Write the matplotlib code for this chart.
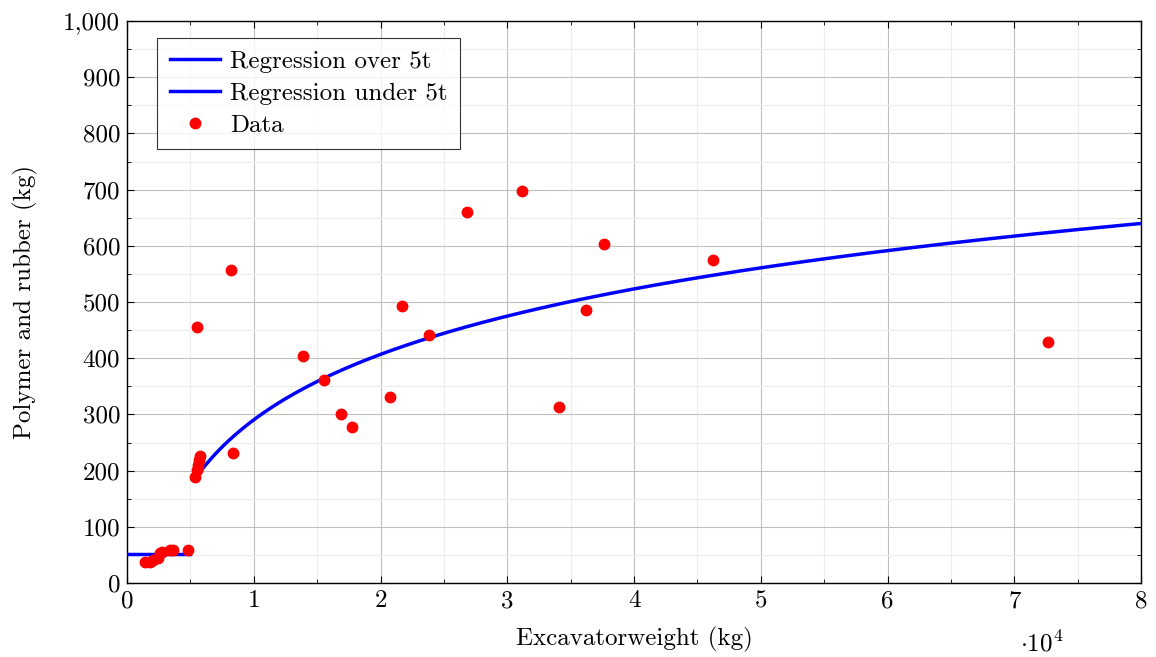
import numpy as np
import matplotlib.pyplot as plt
from matplotlib.ticker import MultipleLocator, FuncFormatter

plt.rcParams['font.family'] = 'cmr10'
plt.rcParams['mathtext.fontset'] = 'cm'
plt.rcParams['axes.formatter.use_mathtext'] = True

# measured excavators: operating weight (kg) and polymer/rubber mass (kg)
weight = [1420, 1815, 2050, 2450, 2600, 2760, 3390, 3630, 4810,
          5400, 5480, 5560, 5640, 5720, 5523, 8205, 8363,
          13886, 15543, 16884, 17751, 20750, 21696, 23826, 26824,
          31164, 34083, 36213, 37633, 46233, 72663]
polymer = [37, 37, 41, 44, 53, 55, 59, 59, 59,
           189, 201, 210, 219, 226, 455, 557, 231,
           404, 361, 301, 278, 331, 493, 441, 660,
           698, 313, 486, 603, 575, 429]

# regression fits
under_const = 51.0
under_range = (0, 5000)
over_a, over_b = 168.0, -1256.9   # y = a*ln(x) + b
over_range = (5400, 80000)

fig = plt.figure(figsize=(11.56, 6.57), dpi=100)
ax = fig.add_axes([0.1099, 0.1126, 0.8772, 0.8554])

xo = np.linspace(*over_range, 400)
ax.plot(xo, over_a * np.log(xo) + over_b, color='blue', lw=2.5,
        label='Regression over 5t', zorder=3)
ax.plot(under_range, [under_const, under_const], color='blue', lw=2.5,
        label='Regression under 5t', zorder=3)
ax.plot(weight, polymer, 'o', color='red', ms=7.5, lw=0, label='Data', zorder=4)

ax.set_xlim(0, 80000)
ax.set_ylim(0, 1000)
ax.xaxis.set_major_locator(MultipleLocator(10000))
ax.xaxis.set_minor_locator(MultipleLocator(5000))
ax.yaxis.set_major_locator(MultipleLocator(100))
ax.yaxis.set_minor_locator(MultipleLocator(50))
ax.xaxis.set_major_formatter(FuncFormatter(lambda v, p: f'{v / 1e4:g}'))
ax.yaxis.set_major_formatter(FuncFormatter(lambda v, p: f'{v:,.0f}'))

ax.grid(which='major', color='#bfbfbf', lw=0.8)
ax.grid(which='minor', color='#ececec', lw=0.8)
ax.set_axisbelow(True)
ax.tick_params(which='both', direction='in', top=True, right=True,
               labelsize=18, pad=5)
ax.tick_params(which='major', length=5)
ax.tick_params(which='minor', length=3)
for s in ax.spines.values():
    s.set_linewidth(1.0)

ax.set_xlabel('Excavatorweight (kg)', fontsize=18, labelpad=11)
ax.set_ylabel('Polymer and rubber (kg)', fontsize=18, labelpad=18)
fig.text(1042 / 1156, 1 - 644 / 657, r'$\cdot 10^4$', fontsize=18,
         ha='center', va='center')

leg = ax.legend(loc='upper left', bbox_to_anchor=(0.030, 0.970), fontsize=18,
                frameon=True, fancybox=False, edgecolor='black',
                handlelength=2.0, borderpad=0.5, labelspacing=0.38,
                handletextpad=0.4, borderaxespad=0)
leg.get_frame().set_linewidth(0.8)

fig.savefig('out.png', dpi=100)
